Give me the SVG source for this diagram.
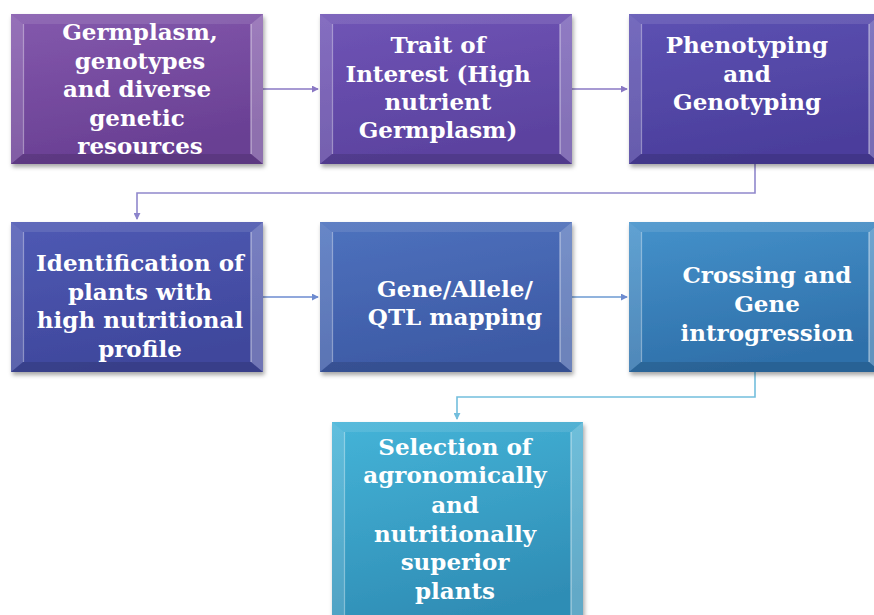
<svg xmlns="http://www.w3.org/2000/svg" xmlns:xlink="http://www.w3.org/1999/xlink" width="874" height="615" viewBox="0 0 874 615">
<style>
.lbl{font-family:"DejaVu Serif","Liberation Serif",serif;font-weight:bold;font-size:23px;fill:#ffffff;text-anchor:middle}
.con{fill:none;stroke-width:1.6}
</style>
<defs>
<filter id="sh" x="-10%" y="-10%" width="125%" height="130%">
<feDropShadow dx="1.5" dy="3" stdDeviation="2" flood-color="#000" flood-opacity="0.35"/>
</filter>
<linearGradient id="g1" x1="0" y1="0" x2="0.3" y2="1"><stop offset="0" stop-color="#8459ad"/><stop offset="1" stop-color="#693f93"/></linearGradient>
<linearGradient id="g2" x1="0" y1="0" x2="0.3" y2="1"><stop offset="0" stop-color="#7055b6"/><stop offset="1" stop-color="#5b429f"/></linearGradient>
<linearGradient id="g3" x1="0" y1="0" x2="0.3" y2="1"><stop offset="0" stop-color="#5d52b3"/><stop offset="1" stop-color="#4b3e9c"/></linearGradient>
<linearGradient id="g4" x1="0" y1="0" x2="0.3" y2="1"><stop offset="0" stop-color="#4f5ab4"/><stop offset="1" stop-color="#3f479c"/></linearGradient>
<linearGradient id="g5" x1="0" y1="0" x2="0.3" y2="1"><stop offset="0" stop-color="#4e72be"/><stop offset="1" stop-color="#3d5aa5"/></linearGradient>
<linearGradient id="g6" x1="0" y1="0" x2="0.3" y2="1"><stop offset="0" stop-color="#4592cb"/><stop offset="1" stop-color="#2f70aa"/></linearGradient>
<linearGradient id="g7" x1="0" y1="0" x2="0.3" y2="1"><stop offset="0" stop-color="#45b4d8"/><stop offset="1" stop-color="#2f8db5"/></linearGradient>
<g id="bevel">
<polygon points="0,0 252,0 240,10 12,10" fill="#ffffff" fill-opacity="0.1"/>
<polygon points="0,0 12,10 12,140 0,150" fill="#ffffff" fill-opacity="0.15"/>
<polygon points="252,0 252,150 240,140 240,10" fill="#ffffff" fill-opacity="0.25"/>
<polygon points="0,150 12,140 240,140 252,150" fill="#000000" fill-opacity="0.12"/>
<line x1="12.5" y1="10" x2="12.5" y2="140" stroke="#ffffff" stroke-opacity="0.4" stroke-width="1.2"/>
<line x1="240" y1="10" x2="240" y2="140" stroke="#ffffff" stroke-opacity="0.5" stroke-width="1.2"/>
</g>
<marker id="a1" viewBox="0 0 8 8" refX="7" refY="4" markerWidth="7" markerHeight="7" markerUnits="userSpaceOnUse" orient="auto"><path d="M0,0 L8,4 L0,8 z" fill="#8a78c4"/></marker>
<marker id="a2" viewBox="0 0 8 8" refX="7" refY="4" markerWidth="7" markerHeight="7" markerUnits="userSpaceOnUse" orient="auto"><path d="M0,0 L8,4 L0,8 z" fill="#8c84cc"/></marker>
<marker id="a3" viewBox="0 0 8 8" refX="7" refY="4" markerWidth="7" markerHeight="7" markerUnits="userSpaceOnUse" orient="auto"><path d="M0,0 L8,4 L0,8 z" fill="#6d8bd0"/></marker>
<marker id="a4" viewBox="0 0 8 8" refX="7" refY="4" markerWidth="7" markerHeight="7" markerUnits="userSpaceOnUse" orient="auto"><path d="M0,0 L8,4 L0,8 z" fill="#73bedd"/></marker>
</defs>
<rect width="874" height="615" fill="#ffffff"/>

<g id="connectors">
<path class="con" d="M263,89 H318" stroke="#8a78c4" marker-end="url(#a1)"/>
<path class="con" d="M572,89 H627" stroke="#8a78c4" marker-end="url(#a1)"/>
<path class="con" d="M755,164 V193 H137 V219" stroke="#9088cc" marker-end="url(#a2)"/>
<path class="con" d="M263,297 H318" stroke="#6d8bd0" marker-end="url(#a3)"/>
<path class="con" d="M572,297 H627" stroke="#6d9ad2" marker-end="url(#a3)"/>
<path class="con" d="M755,372 V397 H457 V419" stroke="#73bedd" marker-end="url(#a4)"/>
</g>

<g id="node1">
<rect x="11" y="14" width="252" height="150" fill="url(#g1)" filter="url(#sh)"/>
<use xlink:href="#bevel" x="11" y="14"/>
<text class="lbl"><tspan x="140" y="40">Germplasm,</tspan><tspan x="140" y="68.5">genotypes</tspan><tspan x="137" y="97">and diverse</tspan><tspan x="137" y="125.5">genetic</tspan><tspan x="140" y="154">resources</tspan></text>
</g>

<g id="node2">
<rect x="320" y="14" width="252" height="150" fill="url(#g2)" filter="url(#sh)"/>
<use xlink:href="#bevel" x="320" y="14"/>
<text class="lbl"><tspan x="438" y="53">Trait of</tspan><tspan x="438" y="82">Interest (High</tspan><tspan x="438" y="110">nutrient</tspan><tspan x="438" y="138">Germplasm)</tspan></text>
</g>

<g id="node3">
<rect x="629" y="14" width="252" height="150" fill="url(#g3)" filter="url(#sh)"/>
<use xlink:href="#bevel" x="629" y="14"/>
<text class="lbl"><tspan x="747" y="53">Phenotyping</tspan><tspan x="747" y="82">and</tspan><tspan x="747" y="110">Genotyping</tspan></text>
</g>

<g id="node4">
<rect x="11" y="222" width="252" height="150" fill="url(#g4)" filter="url(#sh)"/>
<use xlink:href="#bevel" x="11" y="222"/>
<text class="lbl"><tspan x="140" y="271">Identification of</tspan><tspan x="140" y="300">plants with</tspan><tspan x="140" y="328">high nutritional</tspan><tspan x="140" y="357">profile</tspan></text>
</g>

<g id="node5">
<rect x="320" y="222" width="252" height="150" fill="url(#g5)" filter="url(#sh)"/>
<use xlink:href="#bevel" x="320" y="222"/>
<text class="lbl"><tspan x="455" y="297">Gene/Allele/</tspan><tspan x="455" y="325">QTL mapping</tspan></text>
</g>

<g id="node6">
<rect x="629" y="222" width="252" height="150" fill="url(#g6)" filter="url(#sh)"/>
<use xlink:href="#bevel" x="629" y="222"/>
<text class="lbl"><tspan x="767" y="283">Crossing and</tspan><tspan x="767" y="312">Gene</tspan><tspan x="767" y="341">introgression</tspan></text>
</g>

<g id="node7">
<rect x="332" y="422" width="251" height="210" fill="url(#g7)" filter="url(#sh)"/>
<polygon points="332,422 583,422 571,432 344,432" fill="#ffffff" fill-opacity="0.1"/>
<polygon points="332,422 344,432 344,632 332,632" fill="#ffffff" fill-opacity="0.15"/>
<polygon points="583,422 583,632 571,632 571,432" fill="#ffffff" fill-opacity="0.25"/>
<line x1="344.5" y1="432" x2="344.5" y2="632" stroke="#ffffff" stroke-opacity="0.4" stroke-width="1.2"/>
<line x1="571" y1="432" x2="571" y2="632" stroke="#ffffff" stroke-opacity="0.5" stroke-width="1.2"/>
<text class="lbl"><tspan x="455" y="455">Selection of</tspan><tspan x="455" y="483">agronomically</tspan><tspan x="455" y="513">and</tspan><tspan x="455" y="542">nutritionally</tspan><tspan x="455" y="570">superior</tspan><tspan x="455" y="599">plants</tspan></text>
</g>
</svg>
